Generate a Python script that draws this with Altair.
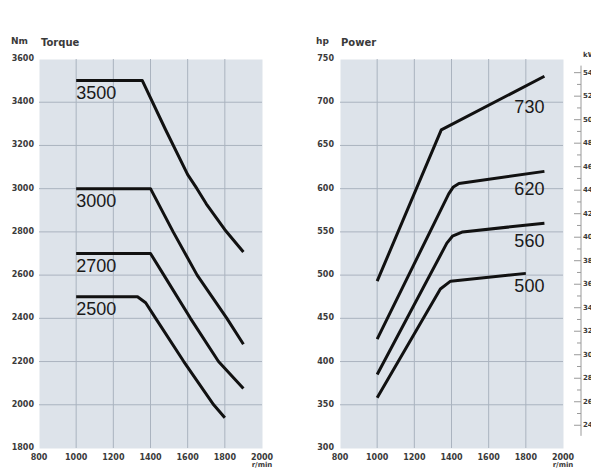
import altair as alt
import pandas as pd

# ---------------- data ----------------
rpm_ticks = [800, 1000, 1200, 1400, 1600, 1800, 2000]
torque_ticks = [1800, 2000, 2200, 2400, 2600, 2800, 3000, 3200, 3400, 3600]
power_ticks = [300, 350, 400, 450, 500, 550, 600, 650, 700, 750]
kw_major = [240, 260, 280, 300, 320, 340, 360, 380, 400, 420, 440, 460, 480, 500, 520, 540]
kw_minor = [250, 270, 290, 310, 330, 350, 370, 390, 410, 430, 450, 470, 490, 510, 530]
kw_axis_span = [231, 546]
HP_TO_KW = 0.7355

t3500_rpm = [1000, 1356, 1480, 1600, 1650, 1700, 1800, 1900]
t3500_nm = [3500, 3500, 3275, 3065, 3000, 2930, 2810, 2707]
t3000_rpm = [1000, 1400, 1522, 1651, 1811, 1900]
t3000_nm = [3000, 3000, 2800, 2600, 2400, 2280]
t2700_rpm = [1000, 1400, 1472, 1615, 1766, 1900]
t2700_nm = [2700, 2700, 2600, 2400, 2200, 2075]
t2500_rpm = [1000, 1330, 1374, 1428, 1579, 1740, 1800]
t2500_nm = [2500, 2500, 2472, 2400, 2200, 2000, 1940]

p730_rpm = [1000, 1345, 1900]
p730_hp = [493, 668, 730]
p620_rpm = [1000, 1385, 1410, 1440, 1900]
p620_hp = [426, 594, 602, 606, 620]
p560_rpm = [1000, 1375, 1405, 1460, 1900]
p560_hp = [385, 537, 545, 550, 560]
p500_rpm = [1000, 1340, 1395, 1800]
p500_hp = [358, 484, 493, 502]

torque_labels = ["3500", "3000", "2700", "2500"]
torque_label_rpm = [1000, 1000, 1000, 1000]
torque_label_nm = [3500, 3000, 2700, 2500]
power_labels = ["730", "620", "560", "500"]
power_label_rpm = [1900, 1900, 1900, 1900]
power_label_hp = [688, 593, 533, 481]

# ---------------- tables ----------------
def long_table(series, value_name):
    rows = []
    for name, xs, ys in series:
        for a, b in zip(xs, ys):
            rows.append({"series": name, "rpm": a, value_name: b})
    return pd.DataFrame(rows)

torque_df = long_table([
    ("3500", t3500_rpm, t3500_nm),
    ("3000", t3000_rpm, t3000_nm),
    ("2700", t2700_rpm, t2700_nm),
    ("2500", t2500_rpm, t2500_nm),
], "nm")
power_df = long_table([
    ("730", p730_rpm, p730_hp),
    ("620", p620_rpm, p620_hp),
    ("560", p560_rpm, p560_hp),
    ("500", p500_rpm, p500_hp),
], "hp")
tlab_df = pd.DataFrame({"t": torque_labels, "rpm": torque_label_rpm, "nm": torque_label_nm})
plab_df = pd.DataFrame({"t": power_labels, "rpm": power_label_rpm, "hp": power_label_hp})

rpm_df = pd.DataFrame({"rpm": rpm_ticks, "t": [str(v) for v in rpm_ticks]})
rpm_grid_df = pd.DataFrame({"rpm": rpm_ticks[1:-1]})
nm_df = pd.DataFrame({"nm": torque_ticks, "t": [str(v) for v in torque_ticks]})
nm_grid_df = pd.DataFrame({"nm": torque_ticks[1:-1]})
hp_df = pd.DataFrame({"hp": power_ticks, "t": [str(v) for v in power_ticks]})
hp_grid_df = pd.DataFrame({"hp": power_ticks[1:-1]})
# kW scale drawn on the hp scale (kW = hp * 0.7355)
kwmaj_df = pd.DataFrame({"hp": [k / HP_TO_KW for k in kw_major], "t": [str(k) for k in kw_major]})
kwmin_df = pd.DataFrame({"hp": [k / HP_TO_KW for k in kw_minor]})
kwspan_df = pd.DataFrame({"lo": [kw_axis_span[0] / HP_TO_KW], "hi": [kw_axis_span[1] / HP_TO_KW]})

W, H = 223, 389
AX_FONT = "DejaVu Sans"
LBL_FONT = "Liberation Sans"
INK = "#111111"
AX_INK = "#3a3a3a"
GRID = "#aab3bf"
KW_INK = "#9a9a9a"

x_scale = alt.Scale(domain=[800, 2000], nice=False, zero=False)
t_scale = alt.Scale(domain=[1800, 3600], nice=False, zero=False)
p_scale = alt.Scale(domain=[300, 750], nice=False, zero=False)


def X(field="rpm"):
    return alt.X(f"{field}:Q", scale=x_scale, axis=None)


def single_text(txt, x, y, size, align="left"):
    return alt.Chart(pd.DataFrame({"t": [txt]})).mark_text(
        align=align, baseline="alphabetic", font=AX_FONT, fontSize=size,
        fontWeight="bold", color=AX_INK,
    ).encode(x=alt.value(x), y=alt.value(y), text="t:N")


def panel(ydf_field, yscale, tick_df, grid_df, lines_df, lab_df, lab_align, lab_dy,
          unit, title, unit_x, title_x, ylab_pad, extra=()):
    Y = lambda f: alt.Y(f"{f}:Q", scale=yscale, axis=None)
    vgrid = alt.Chart(rpm_grid_df).mark_rule(color=GRID, strokeWidth=1).encode(x=X())
    hgrid = alt.Chart(grid_df).mark_rule(color=GRID, strokeWidth=1).encode(y=Y(ydf_field))
    lines = alt.Chart(lines_df).mark_line(
        color=INK, strokeWidth=3, strokeCap="butt", strokeJoin="round"
    ).encode(x=X(), y=Y(ydf_field), detail="series:N")
    clabels = alt.Chart(lab_df).mark_text(
        align=lab_align, baseline="alphabetic", dy=lab_dy, font=LBL_FONT, fontSize=18,
        color="#1a1a1a",
    ).encode(x=X(), y=Y(ydf_field), text="t:N")
    xlabels = alt.Chart(rpm_df).mark_text(
        align="center", baseline="alphabetic", font=AX_FONT, fontSize=8,
        fontWeight="bold", color=AX_INK,
    ).encode(x=X(), y=alt.value(H + 12), text="t:N")
    ylabels = alt.Chart(tick_df).mark_text(
        align="right", baseline="middle", font=AX_FONT, fontSize=8,
        fontWeight="bold", color=AX_INK,
    ).encode(x=alt.value(-ylab_pad), y=Y(ydf_field), text="t:N")
    layers = [vgrid, hgrid, lines, clabels, xlabels, ylabels,
              single_text(unit, unit_x, -15, 9),
              single_text(title, title_x, -13, 10),
              single_text("r/min", W, H + 19, 7, align="center")]
    layers += list(extra)
    return alt.layer(*layers).properties(width=W, height=H)


torque_panel = panel("nm", t_scale, nm_df, nm_grid_df, torque_df, tlab_df, "left", 18,
                     "Nm", "Torque", -28, 2, 5)

# kW scale pieces (right side of the power panel)
kY = lambda f: alt.Y(f"{f}:Q", scale=p_scale, axis=None)
kw_line = alt.Chart(kwspan_df).mark_rule(color=KW_INK, strokeWidth=1).encode(
    x=alt.value(W + 18), y=kY("lo"), y2="hi:Q")
kw_tmaj = alt.Chart(kwmaj_df).mark_rule(color=KW_INK, strokeWidth=1).encode(
    x=alt.value(W + 11), x2=alt.value(W + 18), y=kY("hp"))
kw_tmin = alt.Chart(kwmin_df).mark_rule(color=KW_INK, strokeWidth=1).encode(
    x=alt.value(W + 14), x2=alt.value(W + 18), y=kY("hp"))
kw_lab = alt.Chart(kwmaj_df).mark_text(
    align="left", baseline="middle", font=AX_FONT, fontSize=7, fontWeight="bold",
    color=AX_INK).encode(x=alt.value(W + 20), y=kY("hp"), text="t:N")
kw_title = single_text("kW", W + 20, -2, 7)

power_panel = panel("hp", p_scale, hp_df, hp_grid_df, power_df, plab_df, "right", 0,
                    "hp", "Power", -24, 1, 6,
                    extra=(kw_line, kw_tmaj, kw_tmin, kw_lab, kw_title))

chart = alt.hconcat(torque_panel, power_panel, spacing=78, bounds="flush").properties(
    padding={"left": 2, "top": 28, "right": -8, "bottom": -1},
    background="white",
).configure_view(fill="#dde3ea", stroke="transparent")

chart.save("out.html", embed_options={"renderer": "svg", "actions": False})
